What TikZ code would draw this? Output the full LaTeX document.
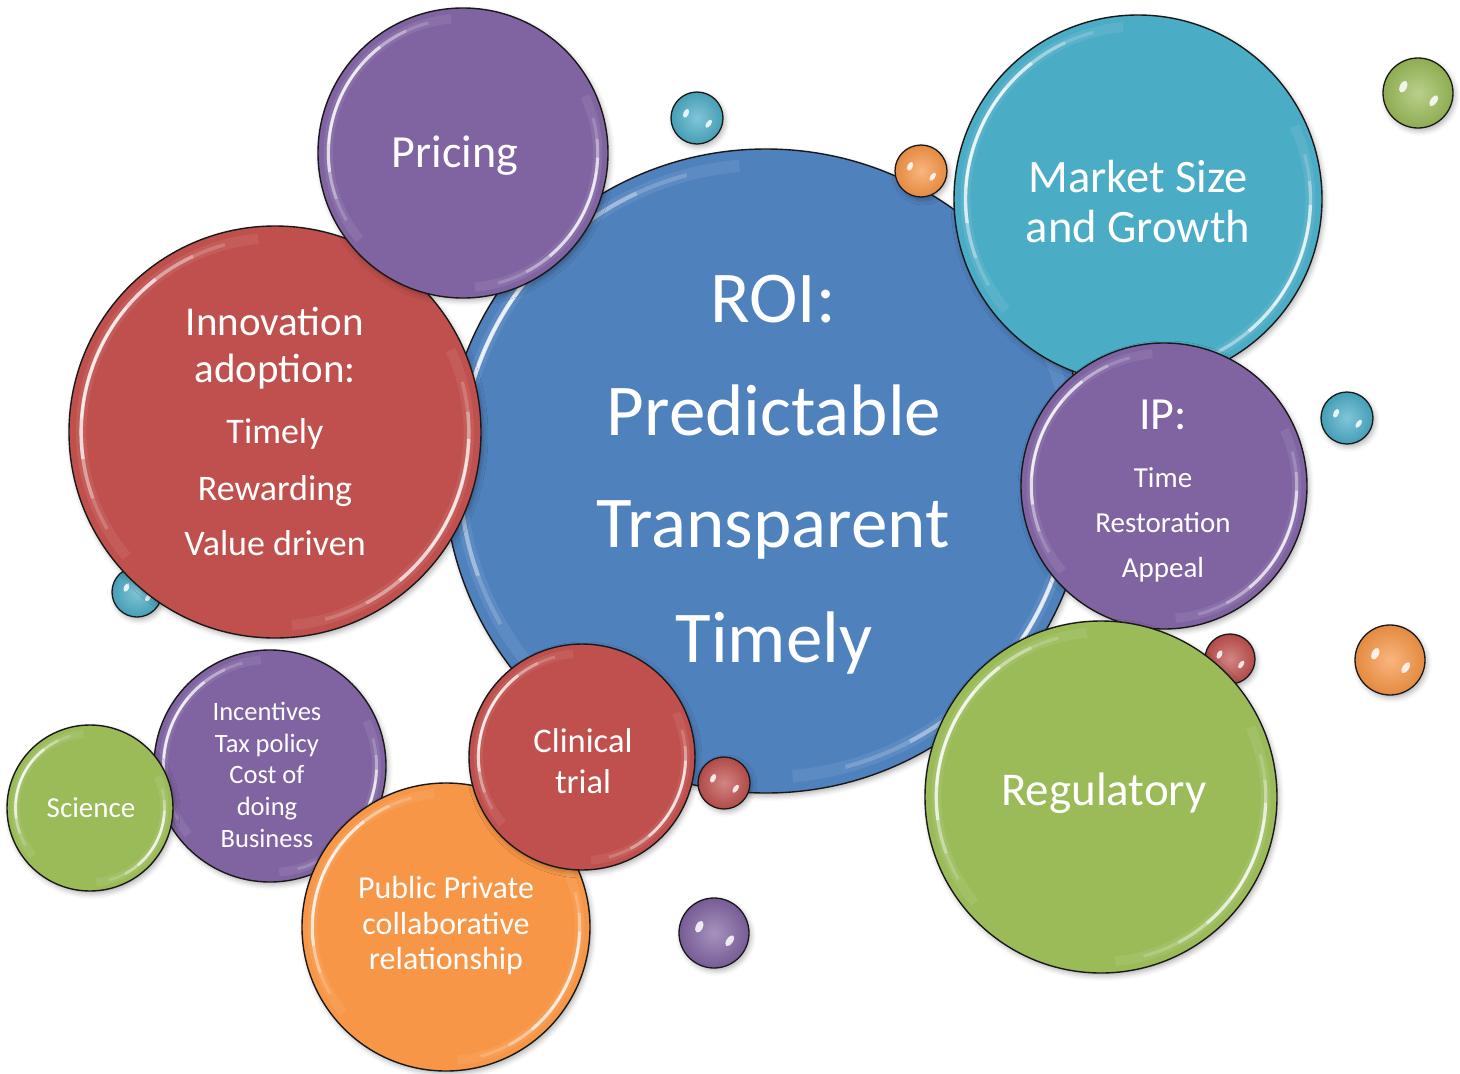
\documentclass[tikz,border=0pt]{standalone}
\usepackage{fontspec}
\setmainfont{Carlito}
\usetikzlibrary{shadows.blur}
\definecolor{cblue}{HTML}{4F81BD}
\definecolor{cpurple}{HTML}{8064A2}
\definecolor{cred}{HTML}{C0504D}
\definecolor{cteal}{HTML}{4BACC6}
\definecolor{cgreen}{HTML}{9BBB59}
\definecolor{corange}{HTML}{F79646}
\tikzset{
  bub/.style={circle, inner sep=0pt, draw=black!90, line width=1.4pt,
    blur shadow={shadow xshift=2pt, shadow yshift=-3pt, shadow blur radius=5pt, shadow opacity=30}},
  lbl/.style={text=white, anchor=base, inner sep=0pt},
}
\newcommand\hlarc[4]{%
  \draw[white, opacity=#3, line width={#4}] ({-1*(#1)}:\rr) arc[start angle={-1*(#1)}, end angle={-1*(#2)}, radius=\rr];}
\newcommand\glossarc[2]{%
  \begin{scope}[shift={(#1.center)}, line cap=butt]
    \pgfmathsetmacro\rr{#2-6-0.03*#2}
    \pgfmathsetmacro\ww{2.2+0.006*#2}
    \hlarc{95}{220}{.08}{3*\ww}
    \hlarc{105}{210}{.18}{\ww}
    \hlarc{115}{200}{.3}{\ww}
    \hlarc{128}{188}{.6}{\ww}
    \hlarc{140}{176}{.5}{0.6*\ww}
    \hlarc{-85}{25}{.08}{3*\ww}
    \hlarc{-75}{15}{.18}{\ww}
    \hlarc{-62}{6}{.3}{\ww}
    \hlarc{-50}{-2}{.55}{\ww}
    \hlarc{-38}{-8}{.45}{0.6*\ww}
  \end{scope}}
\newcommand\bigb[5]{%
  \node[bub, fill=#5, minimum size={2*#4}] (#1) at (#2,#3) {};
  \glossarc{#1}{#4}}
\newcommand\smallb[5]{%
  \node[bub, line width=1.3pt, inner color=#5!70!white, outer color=#5!92!black, minimum size={2*#4}] (#1) at (#2,#3) {};
  \begin{scope}[shift={(#1.center)}]
    \begin{scope}[shift={({-0.42*#4},{-0.18*#4})}, rotate=-25]
      \fill[white, opacity=.85] (0,0) ellipse[x radius={0.1*#4}, y radius={0.18*#4}];
    \end{scope}
    \begin{scope}[shift={({0.45*#4},{0.22*#4})}, rotate=-35]
      \fill[white, opacity=.85] (0,0) ellipse[x radius={0.09*#4}, y radius={0.18*#4}];
    \end{scope}
  \end{scope}}
\newcommand\fs[1]{\fontsize{#1}{#1}\selectfont}
\begin{document}
\begin{tikzpicture}[x=1pt, y=-1pt]
\useasboundingbox (0,0) rectangle (1460,1074);
% bubbles, back to front
\smallb{sTealL}{137}{592}{25}{cteal}
\bigb{roi}{766}{471}{322}{cblue}
\smallb{sOrangeT}{921}{171}{26}{corange}
\smallb{sRedC}{724}{783}{26}{cred}
\smallb{sRedR}{1230}{659}{25}{cred}
\bigb{innov}{275}{432}{206}{cred}
\bigb{pricing}{463}{153}{145}{cpurple}
\bigb{market}{1138}{199}{184}{cteal}
\bigb{ip}{1164}{486}{143}{cpurple}
\bigb{regul}{1101}{797}{176}{cgreen}
\bigb{incent}{270}{766}{116}{cpurple}
\bigb{science}{90}{808}{83}{cgreen}
\bigb{ppp}{446}{927}{144}{corange}
\bigb{clinical}{582}{757}{113}{cred}
\smallb{sTealT}{697}{118}{26}{cteal}
\smallb{sGreen}{1418}{93}{35}{cgreen}
\smallb{sTealR}{1347}{418}{26}{cteal}
\smallb{sOrangeR}{1390}{660}{35}{corange}
\smallb{sPurple}{714}{933}{35}{cpurple}
% texts
\node[lbl, font=\fs{73}] (troi1) at (773,322) {ROI:};
\node[lbl, font=\fs{73}] (troi2) at (774,435) {Predictable};
\node[lbl, font=\fs{73}] (troi3) at (773,547) {Transparent};
\node[lbl, font=\fs{73}] (troi4) at (774,662) {Timely};
\node[lbl, font=\fs{46}] (tpricing) at (455,167) {Pricing};
\node[lbl, font=\fs{41}] (tinn1) at (275,335) {Innovation};
\node[lbl, font=\fs{41}] (tinn2) at (275,382) {adoption:};
\node[lbl, font=\fs{36}] (tinn3) at (275,443) {Timely};
\node[lbl, font=\fs{36}] (tinn4) at (275,500) {Rewarding};
\node[lbl, font=\fs{36}] (tinn5) at (275,555) {Value driven};
\node[lbl, font=\fs{46.5}] (tmk1) at (1138,192) {Market Size};
\node[lbl, font=\fs{46.5}] (tmk2) at (1138,242) {and Growth};
\node[lbl, font=\fs{46}] (tip1) at (1163,429) {IP:};
\node[lbl, font=\fs{29}] (tip2) at (1163,487) {Time};
\node[lbl, font=\fs{29}] (tip3) at (1163,532) {Restoration};
\node[lbl, font=\fs{29}] (tip4) at (1163,577) {Appeal};
\node[lbl, font=\fs{47}] (treg) at (1104,805) {Regulatory};
\node[lbl, font=\fs{34.5}] (tcl1) at (583,752) {Clinical};
\node[lbl, font=\fs{34.5}] (tcl2) at (583,793) {trial};
\node[lbl, font=\fs{32}] (tpp1) at (446,898) {Public Private};
\node[lbl, font=\fs{32}] (tpp2) at (446,934) {collaborative};
\node[lbl, font=\fs{32}] (tpp3) at (446,969) {relationship};
\node[lbl, font=\fs{26.5}] (tin1) at (267,720) {Incentives};
\node[lbl, font=\fs{26.5}] (tin2) at (267,752) {Tax policy};
\node[lbl, font=\fs{26.5}] (tin3) at (267,783) {Cost of};
\node[lbl, font=\fs{26.5}] (tin4) at (267,815) {doing};
\node[lbl, font=\fs{26.5}] (tin5) at (267,847) {Business};
\node[lbl, font=\fs{29}] (tsci) at (91,817) {Science};
\end{tikzpicture}
\end{document}
